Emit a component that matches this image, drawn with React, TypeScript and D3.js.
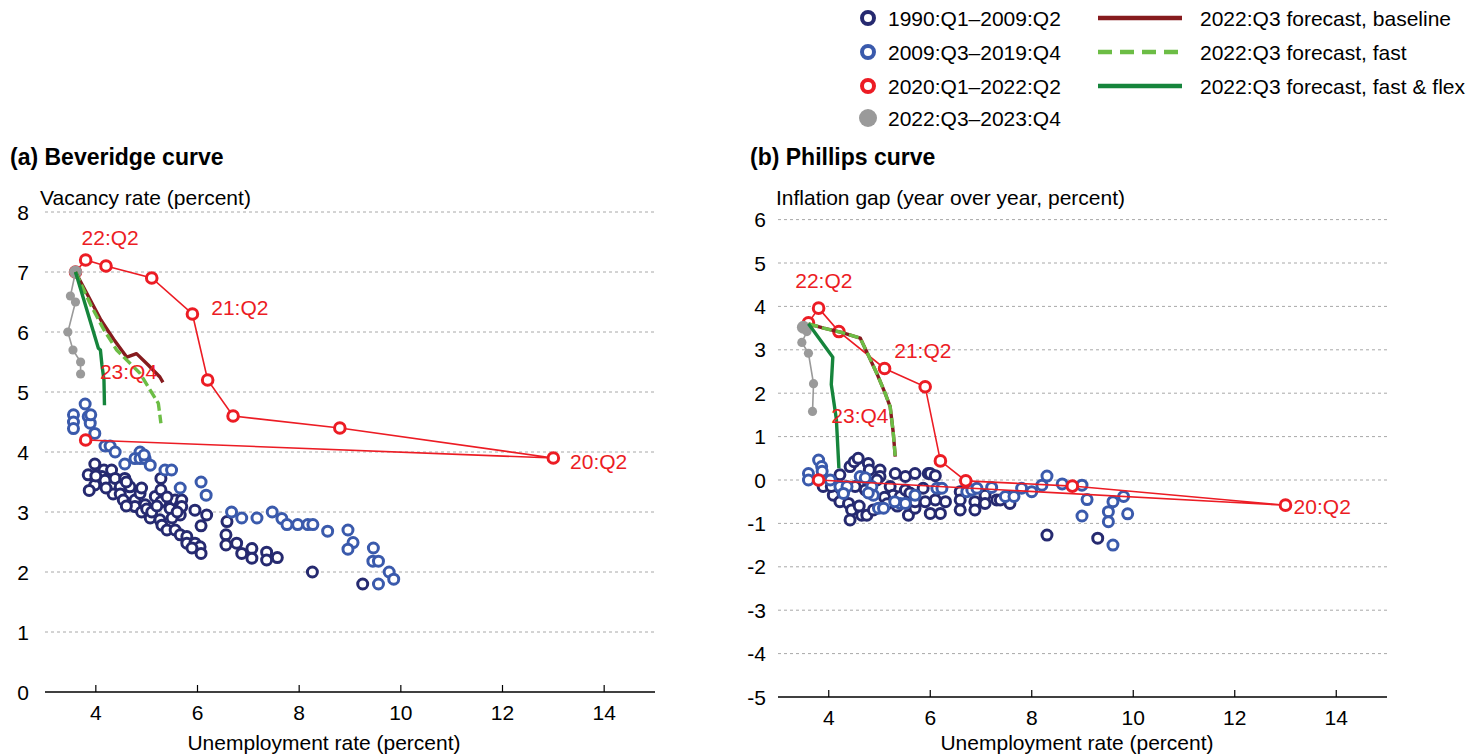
import React from 'react';
import * as d3 from 'd3';

type P = [number, number];

// ---------- (a) Beveridge curve data: [unemployment, vacancy] ----------
const bevNavy: P[] = [
  [3.98, 3.8], [3.85, 3.62], [3.98, 3.45], [3.87, 3.36], [4.16, 3.7], [4.31, 3.7], [4.12, 3.59], [4.18, 3.53],
  [4.38, 3.56], [4.48, 3.42], [4.57, 3.56], [4.34, 3.3], [4.48, 3.3], [4.54, 3.2], [4.67, 3.42], [4.77, 3.2],
  [4.87, 3.31], [4.77, 3.09], [4.97, 3.12], [5.17, 3.26], [5.28, 3.56], [5.28, 3.37], [5.28, 3.17], [5.07, 2.9],
  [5.26, 2.87], [5.3, 2.78], [5.4, 2.7], [5.46, 3.06], [5.56, 3.2], [5.66, 3.12], [5.66, 2.95], [5.56, 2.7],
  [5.66, 2.62], [5.79, 2.59], [5.79, 2.48], [5.95, 3.03], [5.95, 2.48], [6.05, 2.42], [6.07, 2.31], [6.18, 2.95],
  [6.07, 2.77], [5.89, 2.4], [6.58, 2.84], [6.56, 2.62], [6.56, 2.45], [6.77, 2.48], [6.87, 2.31], [7.07, 2.39],
  [7.07, 2.23], [7.36, 2.33], [7.36, 2.2], [7.57, 2.24], [8.26, 2.0], [9.25, 1.8], [5.69, 3.2], [5.69, 3.09],
  [4.9, 3.0], [4.6, 3.1], [5.0, 3.05], [5.5, 2.9], [5.1, 3.0], [4.9, 3.4], [5.4, 3.25], [5.6, 3.0], [5.2, 3.1],
  [4.6, 3.5], [4.2, 3.4], [4.0, 3.6],
];
const bevBlue: P[] = [
  [3.79, 4.8], [3.56, 4.62], [3.56, 4.5], [3.56, 4.39], [3.85, 4.59], [3.89, 4.48], [3.9, 4.62], [3.98, 4.31],
  [4.18, 4.1], [4.28, 4.1], [4.38, 4.0], [4.57, 3.8], [4.87, 4.0], [4.77, 3.89], [4.87, 3.89], [4.97, 3.89],
  [5.07, 3.78], [5.36, 3.7], [5.49, 3.7], [5.66, 3.4], [6.07, 3.5], [6.17, 3.28], [6.67, 3.0], [6.87, 2.9],
  [7.17, 2.9], [7.47, 3.0], [7.66, 2.89], [7.76, 2.79], [7.97, 2.79], [8.17, 2.79], [8.27, 2.79], [8.56, 2.68],
  [8.96, 2.7], [9.06, 2.49], [8.96, 2.38], [9.46, 2.4], [9.45, 2.18], [9.56, 2.18], [9.77, 2.0], [9.86, 1.88],
  [9.56, 1.8], [4.95, 3.95],
];
// 2020:Q1 ... 2022:Q2
const bevRed: P[] = [
  [3.8, 4.2], [13.0, 3.9], [8.8, 4.4], [6.7, 4.6], [6.2, 5.2], [5.9, 6.3], [5.1, 6.9], [4.2, 7.1], [3.8, 7.2], [3.6, 7.0],
];
const bevGray: P[] = [[3.6, 7.0], [3.5, 6.6], [3.6, 6.5], [3.45, 6.0], [3.55, 5.7], [3.7, 5.5], [3.7, 5.3]];
const bevBaseline: P[] = [
  [3.6, 7.0], [3.85, 6.6], [4.1, 6.2], [4.35, 5.88], [4.61, 5.58], [4.8, 5.64], [5.03, 5.45], [5.26, 5.25], [5.32, 5.16],
];
const bevFast: P[] = [
  [3.6, 7.0], [3.9, 6.45], [4.15, 6.05], [4.41, 5.7], [4.87, 5.31], [5.07, 5.03], [5.23, 4.81], [5.28, 4.48],
];
const bevFlex: P[] = [
  [3.6, 7.0], [3.83, 6.35], [4.05, 5.73], [4.09, 5.7], [4.12, 5.45], [4.16, 5.2], [4.17, 4.78],
];

// ---------- (b) Phillips curve data: [unemployment, inflation gap] ----------
const phiNavy: P[] = [
  [4.22, 0.12], [4.42, 0.31], [4.5, 0.42], [4.58, 0.5], [4.78, 0.38], [4.8, 0.23], [5.01, 0.23], [5.01, 0.08],
  [5.31, 0.15], [5.51, 0.08], [5.7, 0.15], [5.96, 0.15], [6.0, 0.15], [6.1, 0.1], [3.89, -0.15], [4.09, -0.35],
  [4.22, -0.5], [4.39, -0.54], [4.45, -0.69], [4.65, -0.81], [4.42, -0.92], [4.75, -0.81], [4.52, -0.15],
  [4.72, -0.23], [4.88, -0.69], [5.21, -0.15], [5.27, -0.35], [5.41, -0.38], [5.51, -0.23], [5.57, -0.81],
  [5.7, -0.65], [5.7, -0.5], [5.86, -0.19], [6.1, -0.46], [6.0, -0.77], [6.2, -0.77], [6.59, -0.27],
  [6.59, -0.46], [6.59, -0.69], [6.88, -0.5], [6.88, -0.69], [7.08, -0.35], [7.08, -0.54], [7.31, -0.46],
  [7.38, -0.46], [7.51, -0.38], [7.57, -0.54], [8.3, -1.27], [9.3, -1.34], [4.05, -0.15], [4.6, -0.6],
  [5.1, -0.4], [5.35, -0.6], [5.6, -0.3], [5.9, -0.5], [4.95, 0.0], [5.15, -0.55], [4.3, -0.25], [6.3, -0.5],
  [6.15, -0.2],
];
const phiBlue: P[] = [
  [3.6, 0.15], [3.6, 0.0], [3.8, 0.46], [3.86, 0.31], [3.87, 0.2], [4.03, 0.0], [4.22, -0.15], [4.36, -0.15],
  [4.29, -0.31], [4.62, 0.08], [4.72, 0.05], [4.85, -0.15], [4.88, -0.35], [4.98, -0.65], [5.08, -0.65],
  [5.41, -0.54], [5.51, -0.54], [5.7, -0.35], [6.13, -0.19], [6.23, -0.19], [6.72, -0.27], [6.82, -0.23],
  [6.92, -0.19], [7.21, -0.17], [7.48, -0.38], [7.65, -0.38], [7.8, -0.19], [8.0, -0.27], [8.2, -0.12],
  [8.3, 0.09], [8.6, -0.09], [8.99, -0.12], [9.09, -0.45], [8.99, -0.83], [9.51, -0.73], [9.51, -0.96],
  [9.6, -0.5], [9.81, -0.38], [9.89, -0.78], [9.6, -1.5], [4.78, -0.3], [5.3, -0.5],
];
const phiRed: P[] = [
  [3.8, 0.0], [13.0, -0.58], [8.8, -0.14], [6.7, -0.02], [6.2, 0.44], [5.9, 2.15], [5.1, 2.57], [4.2, 3.42], [3.8, 3.96], [3.6, 3.62],
];
const phiGray: P[] = [[3.5, 3.52], [3.57, 3.42], [3.47, 3.17], [3.6, 2.92], [3.7, 2.22], [3.68, 1.58]];
const phiBaseline: P[] = [
  [3.6, 3.6], [3.9, 3.5], [4.25, 3.4], [4.62, 3.27], [4.75, 2.95], [4.95, 2.45], [5.11, 2.0], [5.21, 1.69], [5.27, 1.1], [5.31, 0.54],
];
const phiFast: P[] = [
  [3.6, 3.6], [3.9, 3.5], [4.25, 3.4], [4.62, 3.27], [4.75, 2.95], [4.95, 2.45], [5.11, 2.0], [5.21, 1.69], [5.27, 1.1], [5.31, 0.54],
];
const phiFlex: P[] = [[3.6, 3.6], [4.08, 2.83], [4.05, 2.2], [4.15, 1.4], [4.2, 0.27]];

const xTicks = [4, 6, 8, 10, 12, 14];
const bevYTicks = [0, 1, 2, 3, 4, 5, 6, 7, 8];
const phiYTicks = [-5, -4, -3, -2, -1, 0, 1, 2, 3, 4, 5, 6];

const bevNotes: { t: string; p: P }[] = [
  { t: '22:Q2', p: [3.72, 7.45] }, { t: '21:Q2', p: [6.27, 6.28] }, { t: '23:Q4', p: [4.08, 5.22] }, { t: '20:Q2', p: [13.33, 3.72] },
];
const phiNotes: { t: string; p: P }[] = [
  { t: '22:Q2', p: [3.34, 4.42] }, { t: '21:Q2', p: [5.29, 2.81] }, { t: '23:Q4', p: [4.05, 1.31] }, { t: '20:Q2', p: [13.16, -0.78] },
];

const legendPoints = ['1990:Q1–2009:Q2', '2009:Q3–2019:Q4', '2020:Q1–2022:Q2', '2022:Q3–2023:Q4'];
const legendLines = ['2022:Q3 forecast, baseline', '2022:Q3 forecast, fast', '2022:Q3 forecast, fast & flex'];

const C = {
  navy: '#262a70',
  blue: '#3a5aac',
  red: '#ec1c24',
  gray: '#9a9a9a',
  base: '#861b1e',
  fast: '#6cbd45',
  flex: '#16853c',
  grid: '#a8a8a8',
};
const FONT = '"Liberation Sans", Arial, Helvetica, sans-serif';

interface PanelProps {
  title: string;
  yTitle: string;
  x0: number; x1: number;
  yTop: number; yBot: number;
  yDomain: [number, number];
  yTicks: number[];
  labelX: number;
  titleX: number; yTitleX: number; xTitleCenter: number;
  navy: P[]; blue: P[]; red: P[]; gray: P[];
  baseline: P[]; fast: P[]; flex: P[];
  notes: { t: string; p: P }[];
}

function Panel(props: PanelProps) {
  const x = d3.scaleLinear().domain([3, 15]).range([props.x0, props.x1]);
  const y = d3.scaleLinear().domain(props.yDomain).range([props.yBot, props.yTop]);
  const line = d3.line<P>().x((d) => x(d[0])).y((d) => y(d[1]));
  const ring = (pts: P[], color: string, key: string, r = 5) =>
    pts.map((d, i) => (
      <circle key={key + i} cx={x(d[0])} cy={y(d[1])} r={r} fill="white" stroke={color} strokeWidth={3} />
    ));
  return (
    <g>
      <text x={props.titleX} y={165} fontSize={23} fontWeight="bold" fontFamily={FONT}>{props.title}</text>
      <text x={props.yTitleX} y={205} fontSize={21} fontFamily={FONT}>{props.yTitle}</text>
      {props.yTicks.map((t, i) => (
        <g key={'yt' + t}>
          {i > 0 && (
            <line x1={props.x0} x2={props.x1} y1={y(t)} y2={y(t)} stroke={C.grid} strokeWidth={1} strokeDasharray="3,3" />
          )}
          <text x={props.labelX} y={y(t)} dy="0.36em" textAnchor="end" fontSize={21} fontFamily={FONT}>{t}</text>
        </g>
      ))}
      <line x1={props.x0} x2={props.x1} y1={props.yBot} y2={props.yBot} stroke="#000" strokeWidth={1.4} />
      {xTicks.map((t) => (
        <g key={'xt' + t}>
          <line x1={x(t)} x2={x(t)} y1={props.yBot - 7} y2={props.yBot} stroke="#000" strokeWidth={1.2} />
          <text x={x(t)} y={props.yBot + 28} textAnchor="middle" fontSize={21} fontFamily={FONT}>{t}</text>
        </g>
      ))}
      <text x={props.xTitleCenter} y={750} textAnchor="middle" fontSize={21} fontFamily={FONT}>
        Unemployment rate (percent)
      </text>
      {ring(props.navy, C.navy, 'n')}
      {ring(props.blue, C.blue, 'b')}
      <path d={line(props.red) || ''} fill="none" stroke={C.red} strokeWidth={1.6} />
      {ring(props.red, C.red, 'r', 5.3)}
      <path d={line(props.gray) || ''} fill="none" stroke={C.gray} strokeWidth={1.6} />
      {props.gray.map((d, i) => (
        <circle key={'g' + i} cx={x(d[0])} cy={y(d[1])} r={i === 0 ? 6.5 : 4.6} fill={C.gray} />
      ))}
      <path d={line(props.baseline) || ''} fill="none" stroke={C.base} strokeWidth={3.4} strokeLinejoin="round" />
      <path d={line(props.fast) || ''} fill="none" stroke={C.fast} strokeWidth={3.4} strokeDasharray="10,4" strokeLinejoin="round" />
      <path d={line(props.flex) || ''} fill="none" stroke={C.flex} strokeWidth={3.4} strokeLinejoin="round" />
      {props.notes.map((n) => (
        <text key={n.t} x={x(n.p[0])} y={y(n.p[1])} fill={C.red} fontSize={21} fontFamily={FONT}>{n.t}</text>
      ))}
    </g>
  );
}

function Legend() {
  const rowY = [18, 52, 86, 118];
  const ptColors = [C.navy, C.blue, C.red];
  const lineStyles = [
    { c: C.base, dash: undefined as string | undefined },
    { c: C.fast, dash: '14,8' },
    { c: C.flex, dash: undefined as string | undefined },
  ];
  return (
    <g fontFamily={FONT} fontSize={21}>
      {legendPoints.map((t, i) => (
        <g key={t}>
          {i < 3 ? (
            <circle cx={868} cy={rowY[i]} r={6} fill="white" stroke={ptColors[i]} strokeWidth={4} />
          ) : (
            <circle cx={868} cy={rowY[i]} r={9} fill={C.gray} />
          )}
          <text x={888} y={rowY[i]} dy="0.36em">{t}</text>
        </g>
      ))}
      {legendLines.map((t, i) => (
        <g key={t}>
          <line x1={1098} x2={1182} y1={rowY[i]} y2={rowY[i]} stroke={lineStyles[i].c} strokeWidth={4.5} strokeDasharray={lineStyles[i].dash} />
          <text x={1200} y={rowY[i]} dy="0.36em">{t}</text>
        </g>
      ))}
    </g>
  );
}

export default function App() {
  return (
    <svg width={1481} height={755} style={{ position: 'absolute', left: 0, top: 0, background: 'white' }}>
      <rect width={1481} height={755} fill="white" />
      <Legend />
      <Panel
        title="(a) Beveridge curve" yTitle="Vacancy rate (percent)"
        x0={45} x1={655} yTop={212} yBot={692} yDomain={[0, 8]} yTicks={bevYTicks}
        labelX={29} titleX={10} yTitleX={40} xTitleCenter={324}
        navy={bevNavy} blue={bevBlue} red={bevRed} gray={bevGray}
        baseline={bevBaseline} fast={bevFast} flex={bevFlex} notes={bevNotes}
      />
      <Panel
        title="(b) Phillips curve" yTitle="Inflation gap (year over year, percent)"
        x0={778} x1={1387} yTop={219.6} yBot={697} yDomain={[-5, 6]} yTicks={phiYTicks}
        labelX={766} titleX={750} yTitleX={776} xTitleCenter={1077}
        navy={phiNavy} blue={phiBlue} red={phiRed} gray={phiGray}
        baseline={phiBaseline} fast={phiFast} flex={phiFlex} notes={phiNotes}
      />
    </svg>
  );
}
